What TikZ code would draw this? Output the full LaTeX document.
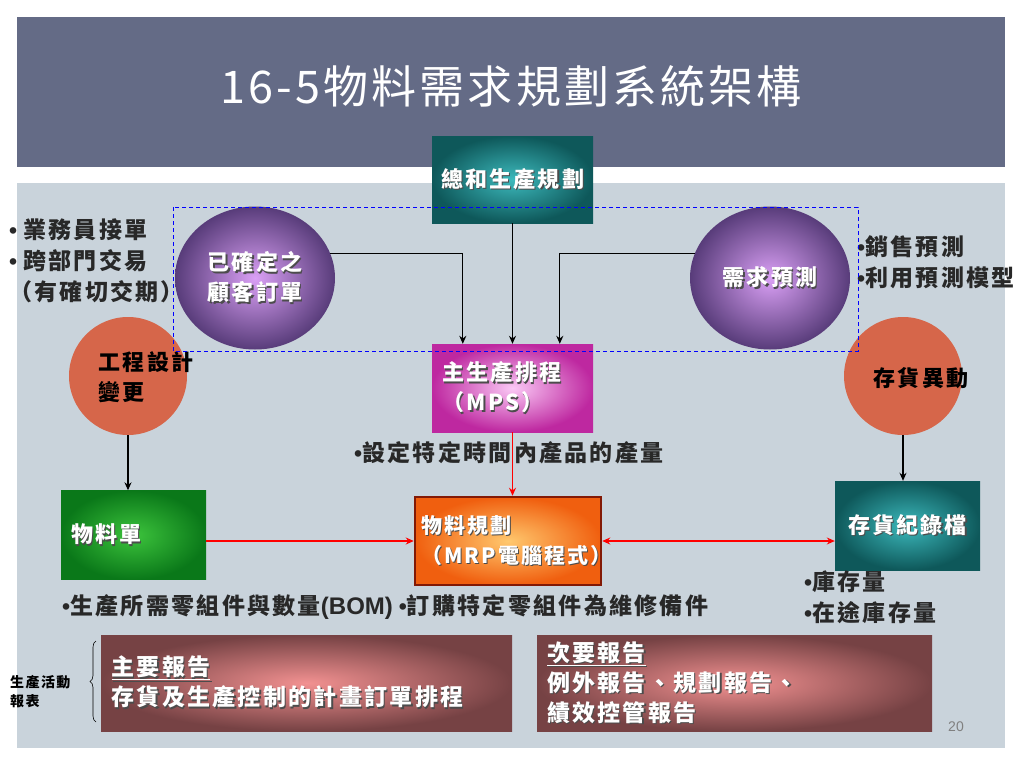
\documentclass[tikz,border=0pt]{standalone}
\usepackage{fontspec}
\setmainfont[LetterSpace=10]{Noto Sans CJK TC}
\newfontfamily\titlefont[LetterSpace=7]{Noto Sans CJK TC}
\newfontfamily\latinsans{Liberation Sans}
\usepackage{tikz}
\usetikzlibrary{positioning,arrows.meta,shapes.geometric,decorations.pathreplacing}
\usepackage{xcolor}
\definecolor{slatebar}{RGB}{100,107,134}
\definecolor{panelgray}{RGB}{201,211,219}
\definecolor{tealdark}{RGB}{14,88,90}
\definecolor{teallight}{RGB}{60,185,188}
\definecolor{plumdark}{RGB}{88,60,122}
\definecolor{plumlight}{RGB}{218,160,245}
\definecolor{rust}{RGB}{214,102,74}
\definecolor{magdark}{RGB}{190,40,160}
\definecolor{maglight}{RGB}{250,200,245}
\definecolor{leafdark}{RGB}{10,120,25}
\definecolor{leaflight}{RGB}{60,195,60}
\definecolor{flamedark}{RGB}{240,95,15}
\definecolor{flamelight}{RGB}{255,200,110}
\definecolor{brick}{RGB}{130,25,5}
\definecolor{winedark}{RGB}{118,66,68}
\definecolor{winelight}{RGB}{242,145,145}
\definecolor{ink}{RGB}{40,40,40}
% white box text with a soft dark shadow
\newcommand{\shd}[1]{\makebox[0pt][l]{\kern1.3pt\raisebox{-1.3pt}{\textcolor{black!70}{#1}}}#1}
\newcommand{\bul}{{\latinsans •}}

\begin{document}
\begin{tikzpicture}[x=1pt,y=-1pt,
  gbox/.style={rectangle,inner sep=0pt,shading=radial,text=white,
               font=\fontsize{22}{30}\selectfont\bfseries},
  oval/.style={ellipse,inner sep=0pt,minimum width=160,minimum height=143,
               shading=radial,inner color=plumlight,outer color=plumdark,
               text=white,align=center,font=\fontsize{22}{30}\selectfont\bfseries},
  disk/.style={circle,fill=rust,minimum size=118,inner sep=0pt},
  darktxt/.style={text=black,align=left,font=\fontsize{22}{30}\selectfont\bfseries},
  note/.style={anchor=west,text=ink,align=left,inner sep=0pt,
               font=\fontsize{23}{31}\selectfont\bfseries},
  arr/.style={-{Stealth[length=8pt,width=7pt]},black,line width=1.2pt},
  redarr/.style={arr,red,line width=1.3pt}
]
\useasboundingbox (0,0) rectangle (1024,768);
\fill[white] (0,0) rectangle (1024,768);
% title band and panel
\fill[slatebar] (17,17) rectangle (1005,167);
\fill[panelgray] (17,183) rectangle (1005,748);
\node[text=white,font=\titlefont\fontsize{45}{50}\selectfont] (title) at (511,86) {16-5物料需求規劃系統架構};

% upper row
\node[gbox,minimum width=161,minimum height=87,inner color=teallight,outer color=tealdark] (agg) at (512.5,179.5) {\shd{總和生產規劃}};
\node[oval] (cust) at (255,278) {\shd{已確定之}\\\shd{顧客訂單}};
\node[oval] (fcst) at (770,278) {\shd{需求預測}};
\node[gbox,minimum width=161,minimum height=88,text width=140,align=left,inner color=maglight,outer color=magdark] (mps) at (512.5,388) {\shd{主生產排程}\\\shd{（MPS）}};

% side circles
\node[disk] (ecn) at (128,376) {};
\node[darktxt] (ecntxt) at (146,377) {工程設計\\變更};
\node[disk] (chg) at (903,376) {};
\node[darktxt] (chgtxt) at (921,378) {存貨異動};

% middle row
\node[gbox,minimum width=145,minimum height=89,text width=125,align=left,inner color=leaflight,outer color=leafdark] (bom) at (133.5,535) {\shd{物料單}};
\node[gbox,font=\fontsize{21}{30}\selectfont\bfseries,draw=brick,line width=2.5pt,minimum width=186,minimum height=88,text width=174,align=left,inner color=flamelight,outer color=flamedark] (mrp) at (508,541) {\shd{物料規劃}\\\shd{（MRP電腦程式）}};
\node[gbox,minimum width=145,minimum height=89,inner color=teallight,outer color=tealdark] (inv) at (907.5,525.5) {\shd{存貨紀錄檔}};

% reports
\node[gbox,font=\fontsize{23}{30}\selectfont\bfseries,minimum width=411,minimum height=96,text width=390,align=left,inner color=winelight,outer color=winedark] (rep1) at (306.5,683) {\shd{\underline{主要報告}}\\\shd{存貨及生產控制的計畫訂單排程}};
\node[gbox,font=\fontsize{23}{30}\selectfont\bfseries,minimum width=395,minimum height=96,text width=375,align=left,inner color=winelight,outer color=winedark] (rep2) at (734.5,683) {\shd{\underline{次要報告}}\\\shd{例外報告、規劃報告、}\\\shd{績效控管報告}};

% notes
\node[note] (salesnote) at (9,261) {\bul\hspace{6pt}業務員接單\\\bul\hspace{6pt}跨部門交易\\（有確切交期）};
\node[note] (fcstnote) at (857,262) {\bul 銷售預測\\\bul 利用預測模型};
\node[note] (mpsnote) at (354,453) {\bul 設定特定時間內產品的產量};
\node[note] (bomnote) at (62,607) {\bul 生產所需零組件與數量{\latinsans\bfseries\fontsize{24}{31}\selectfont (BOM)}\hspace{6pt}\bul 訂購特定零組件為維修備件};
\node[note] (invnote) at (804,597) {\bul 庫存量\\\bul 在途庫存量};
\node[note,text=black,font=\fontsize{14}{19}\selectfont\bfseries] (actnote) at (10,692) {生產活動\\報表};
\node[text=gray,font=\latinsans\fontsize{14}{16}\selectfont] (pageno) at (956,727) {20};
\draw[decorate,decoration={brace,amplitude=6pt},line width=0.6pt] (96,722) -- (96,641);

% connectors
\draw[arr] (cust.18) -| ([xshift=31]mps.north west);
\draw[arr] (agg) -- (mps);
\draw[arr] (fcst.162) -| ([xshift=128]mps.north west);
\draw[redarr] (mps.south) -- (mps.south |- mrp.north);
\draw[arr] (ecn.south) -- (ecn.south |- bom.north);
\draw[arr] (chg.south) -- (chg.south |- inv.north);
\draw[redarr] (bom.east |- mrp.west) -- (mrp.west);
\draw[redarr,{Stealth[length=8pt,width=7pt]}-{Stealth[length=8pt,width=7pt]}] (mrp.east) -- (mrp.east -| inv.west);

% dashed frame
\draw[blue,dash pattern=on 4pt off 3pt,line width=0.9pt] (173,207) rectangle (858,351);
\end{tikzpicture}
\end{document}
